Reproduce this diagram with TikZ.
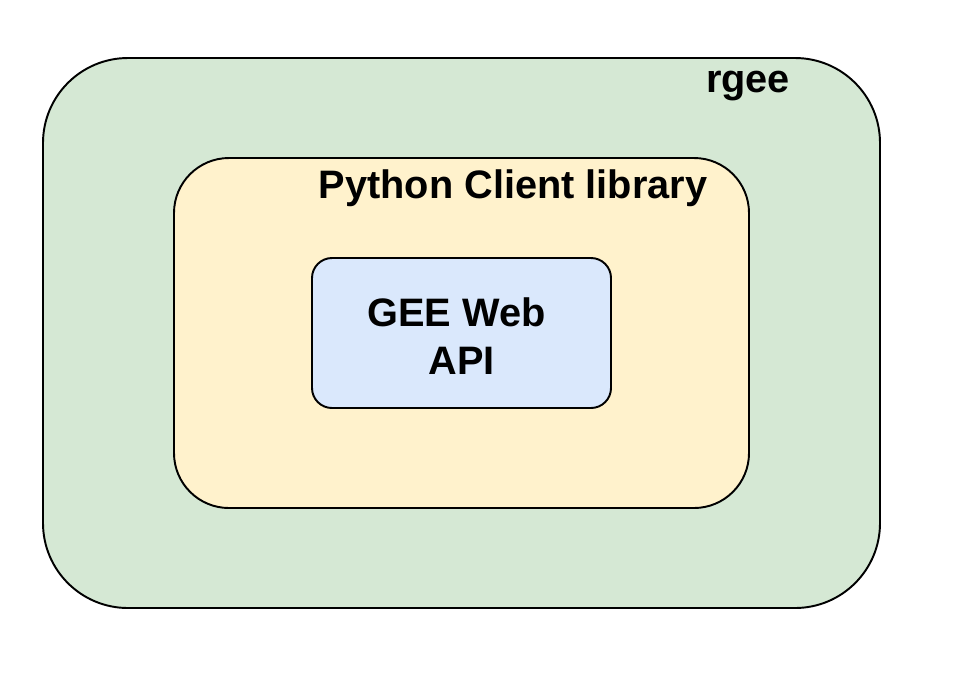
\documentclass[tikz,border=0pt]{standalone}
\usepackage{fontspec}
\setmainfont{Liberation Sans}
\usepackage{tikz}
\usetikzlibrary{calc}

\definecolor{rgeegreen}{HTML}{D5E8D4}
\definecolor{pyyellow}{HTML}{FFF2CC}
\definecolor{apiblue}{HTML}{DAE8FC}

\begin{document}
\begin{tikzpicture}[
  layer/.style={draw=black, line width=1.1pt, inner sep=0pt},
  lbl/.style={inner sep=0pt, font=\fontsize{22.6}{27}\selectfont\bfseries}
]
\useasboundingbox (0,0) rectangle (19.32,-13.64);

\node[layer, fill=rgeegreen, rounded corners=1.7cm, minimum width=16.74cm, minimum height=11cm] (rgee) at (9.23,-6.66) {};
\node[layer, fill=pyyellow, rounded corners=1.1cm, minimum width=11.5cm, minimum height=7cm] (python) at (9.23,-6.66) {};
\node[layer, fill=apiblue, rounded corners=0.4cm, minimum width=5.98cm, minimum height=3cm] (api) at (9.23,-6.66) {};

\node[lbl] (rgeelabel) at (14.96,-1.72) {rgee};
\node[lbl] (pythonlabel) at (10.26,-3.76) {Python Client library};
\node[lbl, align=center] (apilabel) at ($(api.center)+(0,-0.06)$) {GEE Web\hspace*{0.2cm}\\API};

\end{tikzpicture}
\end{document}
